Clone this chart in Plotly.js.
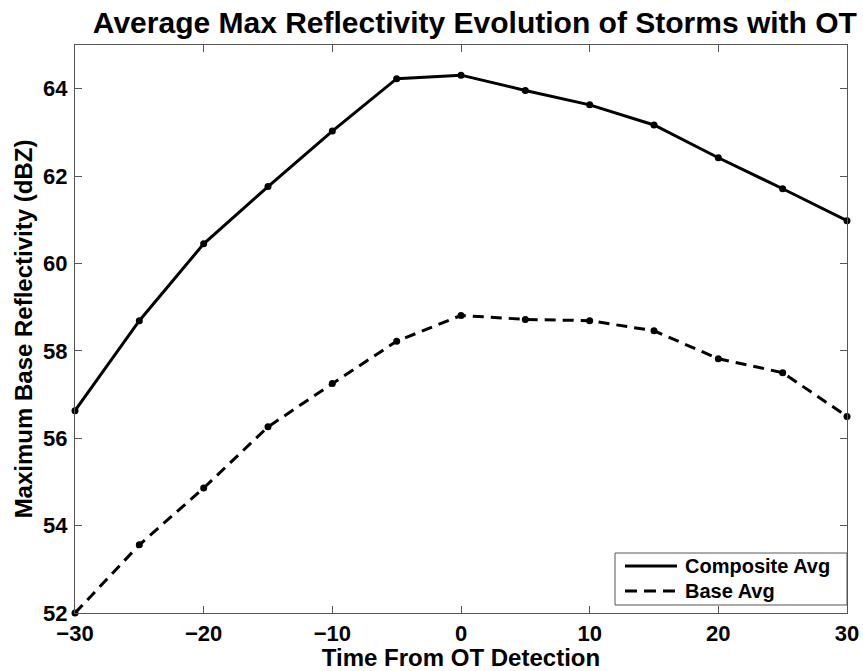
<!DOCTYPE html>
<html>
<head>
<meta charset="utf-8">
<script src="https://cdn.plot.ly/plotly-3.0.1.min.js"></script>
<style>html,body{margin:0;padding:0;background:#fff;}#chart{width:863px;height:671px;}</style>
</head>
<body>
<div id="chart"></div>
<script>
const timeFromOT = [-30, -25, -20, -15, -10, -5, 0, 5, 10, 15, 20, 25, 30];
const compositeAvg = [56.63, 58.69, 60.45, 61.76, 63.03, 64.23, 64.31, 63.96, 63.63, 63.17, 62.42, 61.71, 60.98];
const baseAvg = [52.0, 53.56, 54.86, 56.26, 57.25, 58.22, 58.81, 58.72, 58.69, 58.46, 57.82, 57.50, 56.50];
const seriesNames = ["Composite Avg", "Base Avg"];
const xTicks = [-30, -20, -10, 0, 10, 20, 30];
const xTickText = ["\u221230", "\u221220", "\u221210", "0", "10", "20", "30"];
const yTicks = [52, 54, 56, 58, 60, 62, 64];

const FONT = "Liberation Sans, Arial, Helvetica, sans-serif";
const dashPat = "11px,7px";
const AXC = "#555";

const traces = [
  {x: timeFromOT, y: compositeAvg, mode: "lines+markers", name: seriesNames[0], showlegend: false,
   line: {color: "#000", width: 3}, marker: {color: "#000", size: 7}, cliponaxis: false},
  {x: timeFromOT, y: baseAvg, mode: "lines+markers", name: seriesNames[1], showlegend: false,
   line: {color: "#000", width: 3, dash: dashPat}, marker: {color: "#000", size: 7}, cliponaxis: false}
];

const axisCommon = {
  showgrid: false, zeroline: false, showline: true, mirror: "ticks",
  linecolor: AXC, linewidth: 1, ticks: "inside", ticklen: 7, tickcolor: AXC,
  tickfont: {family: FONT, size: 22, color: "#000", weight: "bold"}
};

// manual legend box (paper coordinates)
const lg = {x0: 0.6995, x1: 1.0, y0: 0.0141, y1: 0.1056, lx0: 0.7124, lx1: 0.7798, tx: 0.7876, rows: [0.0827, 0.0387]};

const shapes = [
  {type: "rect", xref: "paper", yref: "paper", x0: lg.x0, x1: lg.x1, y0: lg.y0, y1: lg.y1,
   line: {color: AXC, width: 1}, fillcolor: "#fff", layer: "above"},
  {type: "line", xref: "paper", yref: "paper", x0: lg.lx0, x1: lg.lx1, y0: lg.rows[0], y1: lg.rows[0],
   line: {color: "#000", width: 3}, layer: "above"},
  {type: "line", xref: "paper", yref: "paper", x0: lg.lx0, x1: lg.lx1, y0: lg.rows[1], y1: lg.rows[1],
   line: {color: "#000", width: 3, dash: "12px,7px"}, layer: "above"}
];

const annotations = seriesNames.map((n, i) => ({
  text: "<b>" + n + "</b>", xref: "paper", yref: "paper", x: lg.tx, y: lg.rows[i],
  xanchor: "left", yanchor: "middle", showarrow: false,
  font: {family: FONT, size: 20, color: "#000"}
}));

const layout = {
  width: 863, height: 671,
  margin: {l: 75, r: 16, t: 45, b: 58},
  paper_bgcolor: "#fff", plot_bgcolor: "#fff",
  showlegend: false,
  title: {text: "<b>Average Max Reflectivity Evolution of Storms with OT</b>",
          font: {family: FONT, size: 30, color: "#000"},
          x: 0.518, xref: "paper", xanchor: "center", y: 0.967, yref: "container", yanchor: "middle"},
  xaxis: Object.assign({}, axisCommon, {
    range: [-30, 30], tickvals: xTicks, ticktext: xTickText, ticklabelstandoff: 1,
    title: {text: "<b>Time From OT Detection</b>", font: {family: FONT, size: 24, color: "#000"}, standoff: 0}
  }),
  yaxis: Object.assign({}, axisCommon, {
    range: [52, 65], tickvals: yTicks, ticklabelstandoff: 2,
    title: {text: "<b>Maximum Base Reflectivity (dBZ)</b>", font: {family: FONT, size: 24, color: "#000"}, standoff: 3}
  }),
  shapes: shapes,
  annotations: annotations
};

Plotly.newPlot("chart", traces, layout, {displayModeBar: false, staticPlot: true});
</script>
</body>
</html>
